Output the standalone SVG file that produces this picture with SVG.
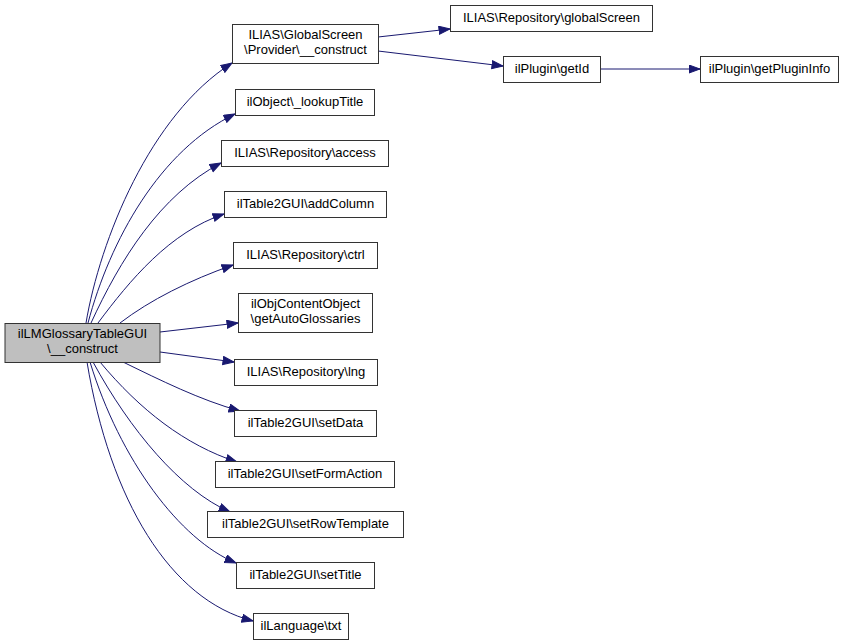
<svg xmlns="http://www.w3.org/2000/svg" width="849" height="644" viewBox="0 0 849 644">
<style>
.n rect{fill:#ffffff;stroke:#333333;stroke-width:1}
.m rect{fill:#bfbfbf;stroke:#333333;stroke-width:1}
text{font-family:"Liberation Sans",Arial,Helvetica,sans-serif;font-size:13px;fill:#000;text-anchor:middle}
.e path{fill:none;stroke:#191970;stroke-width:1;marker-end:url(#ah)}
</style>
<defs>
<marker id="ah" markerUnits="userSpaceOnUse" markerWidth="13" markerHeight="10" refX="11.5" refY="4.5" orient="auto">
<path d="M0.5,0.5 L11.5,4.5 L0.5,8.5 z" fill="#191970" stroke="#191970"/>
</marker>
</defs>
<rect width="849" height="644" fill="#ffffff"/>
<g class="e" id="connectors">
<path d="M86,323 C100,240 150,115 232,63"/>
<path d="M88,323 C110,240 160,150 235,114"/>
<path d="M91,323 C120,260 160,195 221,163"/>
<path d="M98,323 C130,280 170,232 224,214"/>
<path d="M120,323 C150,300 190,280 233,265"/>
<path d="M160,332 L238,323"/>
<path d="M160,352 L234,362"/>
<path d="M123,362 C160,380 200,400 240,411"/>
<path d="M100,362 C140,410 185,445 237,462"/>
<path d="M93,362 C130,430 180,490 230,512"/>
<path d="M90,362 C120,460 180,540 236,563"/>
<path d="M87,362 C110,500 170,600 253,621"/>
<path d="M378,37 L450,29"/>
<path d="M378,51 L503,66"/>
<path d="M600,69 L700,69"/>
</g>
<g class="m" id="main"><rect x="5" y="323.5" width="155" height="39"/><text x="82.5" y="338">ilLMGlossaryTableGUI</text><text x="82.5" y="353">\__construct</text></g>
<g class="n" id="gsprov"><rect x="232.5" y="24.5" width="146" height="39"/><text x="305.5" y="39">ILIAS\GlobalScreen</text><text x="305.5" y="54">\Provider\__construct</text></g>
<g class="n" id="globalscreen"><rect x="450.5" y="5.5" width="202" height="26"/><text x="551.5" y="22">ILIAS\Repository\globalScreen</text></g>
<g class="n" id="getid"><rect x="503.5" y="56.5" width="97" height="26"/><text x="552" y="73">ilPlugin\getId</text></g>
<g class="n" id="getplugininfo"><rect x="700.5" y="56.5" width="138" height="26"/><text x="769.5" y="73">ilPlugin\getPluginInfo</text></g>
<g class="n" id="lookuptitle"><rect x="235.5" y="89.5" width="139" height="26"/><text x="305" y="106">ilObject\_lookupTitle</text></g>
<g class="n" id="access"><rect x="221.5" y="140.5" width="167" height="26"/><text x="305" y="157">ILIAS\Repository\access</text></g>
<g class="n" id="addcolumn"><rect x="224.5" y="191.5" width="162" height="26"/><text x="305.5" y="208">ilTable2GUI\addColumn</text></g>
<g class="n" id="ctrl"><rect x="233.5" y="242.5" width="144" height="26"/><text x="305.5" y="259">ILIAS\Repository\ctrl</text></g>
<g class="n" id="autoglossaries"><rect x="238.5" y="293.5" width="134" height="39"/><text x="305.5" y="308">ilObjContentObject</text><text x="305.5" y="323">\getAutoGlossaries</text></g>
<g class="n" id="lng"><rect x="234.5" y="359.5" width="143" height="26"/><text x="306" y="376">ILIAS\Repository\lng</text></g>
<g class="n" id="setdata"><rect x="234.5" y="410.5" width="142" height="26"/><text x="305.5" y="427">ilTable2GUI\setData</text></g>
<g class="n" id="setformaction"><rect x="215.5" y="461.5" width="179" height="26"/><text x="305" y="478">ilTable2GUI\setFormAction</text></g>
<g class="n" id="setrowtemplate"><rect x="207.5" y="511.5" width="196" height="26"/><text x="305.5" y="528">ilTable2GUI\setRowTemplate</text></g>
<g class="n" id="settitle"><rect x="236.5" y="562.5" width="138" height="26"/><text x="305.5" y="579">ilTable2GUI\setTitle</text></g>
<g class="n" id="txt"><rect x="253.5" y="613.5" width="95" height="26"/><text x="301" y="630">ilLanguage\txt</text></g>
</svg>
